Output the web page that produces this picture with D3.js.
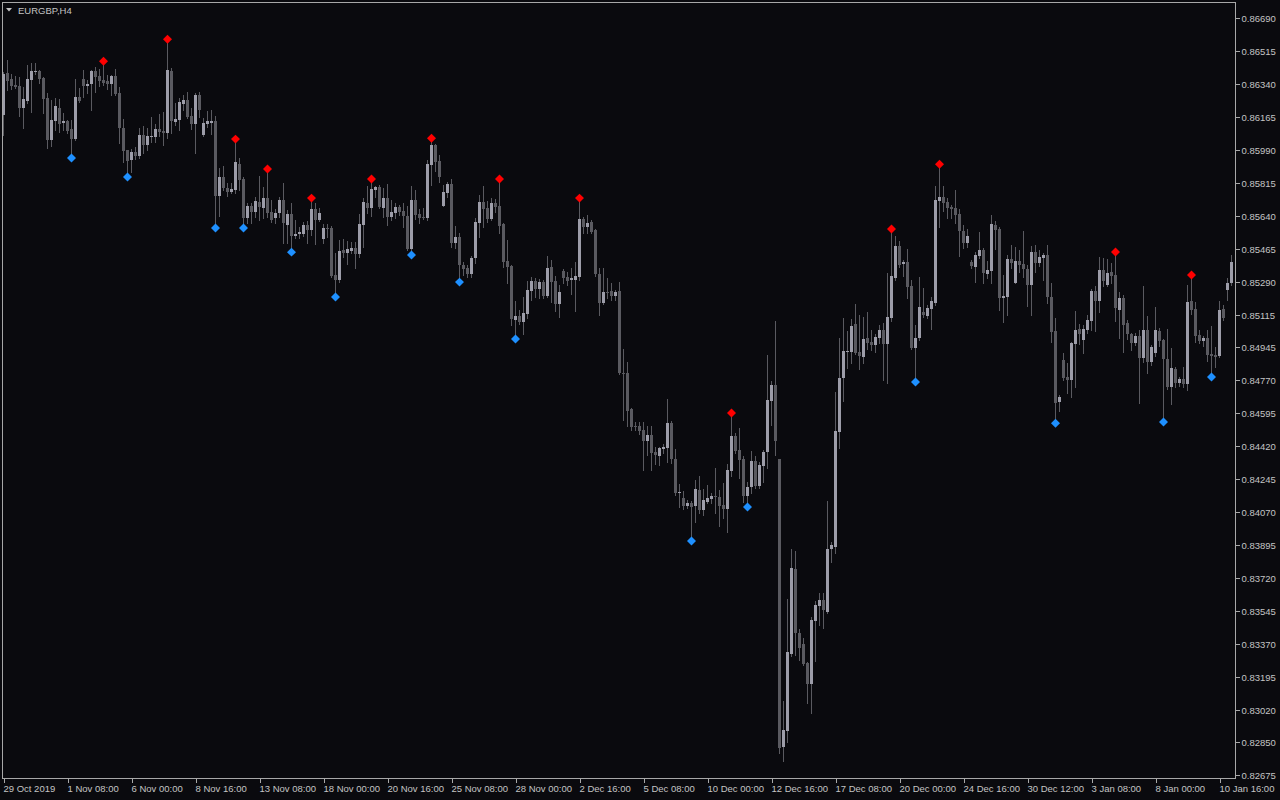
<!DOCTYPE html>
<html><head><meta charset="utf-8">
<script src="https://cdn.jsdelivr.net/npm/d3@7"></script>
<style>
html,body{margin:0;padding:0;background:#0a0a0e;overflow:hidden;}
svg{display:block;}
text{font-family:"Liberation Sans",Arial,sans-serif;}
</style></head><body>
<svg id="c" width="1280" height="800"></svg>
<script>
const symbolLabel = "EURGBP,H4";
const timeLabels = ["29 Oct 2019","1 Nov 08:00","6 Nov 00:00","8 Nov 16:00","13 Nov 08:00","18 Nov 00:00","20 Nov 16:00","25 Nov 08:00","28 Nov 00:00","2 Dec 16:00","5 Dec 08:00","10 Dec 00:00","12 Dec 16:00","17 Dec 08:00","20 Dec 00:00","24 Dec 16:00","30 Dec 12:00","3 Jan 08:00","8 Jan 00:00","10 Jan 16:00"];
const barsPerLabel = 16;
const priceLabels = ["0.86690","0.86515","0.86340","0.86165","0.85990","0.85815","0.85640","0.85465","0.85290","0.85115","0.84945","0.84770","0.84595","0.84420","0.84245","0.84070","0.83895","0.83720","0.83545","0.83370","0.83195","0.83020","0.82850","0.82675"];

const open = [0.86175,0.86398,0.86366,0.86334,0.86329,0.86213,0.86250,0.86361,0.86403,0.86408,
0.86371,0.86265,0.86043,0.86144,0.86213,0.86133,0.86144,0.86101,0.86048,0.86271,
0.86366,0.86329,0.86340,0.86408,0.86382,0.86361,0.86355,0.86340,0.86382,0.86292,
0.86107,0.85990,0.85937,0.85979,0.85958,0.86069,0.86016,0.86059,0.86059,0.86101,
0.86091,0.86080,0.86408,0.86138,0.86149,0.86234,0.86255,0.86170,0.86128,0.86281,
0.86069,0.86128,0.86133,0.86144,0.85746,0.85847,0.85788,0.85767,0.85778,0.85916,
0.85836,0.85630,0.85693,0.85661,0.85714,0.85683,0.85735,0.85661,0.85630,0.85656,
0.85725,0.85592,0.85651,0.85534,0.85545,0.85545,0.85592,0.85566,0.85677,0.85619,
0.85518,0.85577,0.85577,0.85327,0.85301,0.85460,0.85444,0.85455,0.85470,0.85439,
0.85592,0.85709,0.85683,0.85778,0.85794,0.85683,0.85735,0.85635,0.85656,0.85688,
0.85667,0.85640,0.85465,0.85725,0.85651,0.85635,0.85630,0.85910,0.86016,0.85932,
0.85693,0.85762,0.85810,0.85497,0.85529,0.85380,0.85364,0.85333,0.85417,0.85603,
0.85714,0.85683,0.85624,0.85709,0.85693,0.85598,0.85402,0.85375,0.85089,0.85110,
0.85078,0.85121,0.85243,0.85295,0.85253,0.85290,0.85216,0.85370,0.85295,0.85174,
0.85348,0.85317,0.85301,0.85301,0.85317,0.85624,0.85582,0.85608,0.85566,0.85333,
0.85179,0.85237,0.85243,0.85216,0.85243,0.84808,0.84808,0.84616,0.84526,0.84526,
0.84505,0.84447,0.84478,0.84388,0.84367,0.84404,0.84409,0.84542,0.84351,0.84171,
0.84144,0.84102,0.84118,0.84102,0.84187,0.84081,0.84123,0.84139,0.84155,0.84150,
0.84107,0.84086,0.84288,0.84473,0.84399,0.84351,0.84155,0.84203,0.84341,0.84208,
0.84314,0.84388,0.84659,0.84744,0.84351,0.82824,0.82909,0.83318,0.83768,0.83429,
0.83371,0.83270,0.83159,0.83493,0.83572,0.83604,0.83540,0.83874,0.83885,0.84495,
0.84781,0.84919,0.84919,0.85068,0.84919,0.84893,0.84993,0.84972,0.84956,0.84993,
0.85036,0.84962,0.85100,0.85311,0.85481,0.85386,0.85396,0.85269,0.84940,0.84993,
0.85131,0.85110,0.85147,0.85179,0.85720,0.85741,0.85714,0.85688,0.85683,0.85651,
0.85561,0.85497,0.85396,0.85370,0.85428,0.85460,0.85333,0.85348,0.85592,0.85571,
0.85205,0.85211,0.85412,0.85285,0.85402,0.85386,0.85359,0.85274,0.85449,0.85391,
0.85417,0.85433,0.85211,0.85031,0.84653,0.84877,0.84787,0.84771,0.84962,0.85041,
0.84983,0.85036,0.85084,0.85243,0.85190,0.85354,0.85274,0.85343,0.85327,0.85142,
0.85205,0.85073,0.85015,0.84967,0.85004,0.84887,0.85036,0.84866,0.84914,0.85031,
0.84983,0.84882,0.84734,0.84829,0.84755,0.84776,0.84750,0.85190,0.85147,0.85009,
0.84978,0.84993,0.84909,0.84903,0.84898,0.85147,0.85248,0.85285];

const high = [0.86403,0.86467,0.86393,0.86382,0.86377,0.86324,0.86440,0.86451,0.86451,0.86414,
0.86377,0.86292,0.86255,0.86265,0.86260,0.86186,0.86149,0.86149,0.86366,0.86318,
0.86414,0.86361,0.86414,0.86430,0.86420,0.86440,0.86387,0.86387,0.86420,0.86324,
0.86154,0.85990,0.85995,0.86006,0.86107,0.86117,0.86107,0.86165,0.86128,0.86181,
0.86191,0.86557,0.86424,0.86239,0.86265,0.86281,0.86297,0.86213,0.86292,0.86297,
0.86160,0.86197,0.86202,0.86170,0.85894,0.85905,0.85815,0.85815,0.86027,0.85947,
0.85847,0.85709,0.85709,0.85741,0.85852,0.85794,0.85868,0.85725,0.85677,0.85741,
0.85815,0.85672,0.85709,0.85619,0.85582,0.85608,0.85614,0.85714,0.85709,0.85683,
0.85598,0.85598,0.85587,0.85444,0.85513,0.85518,0.85508,0.85502,0.85502,0.85651,
0.85735,0.85799,0.85815,0.85799,0.85804,0.85788,0.85810,0.85725,0.85709,0.85698,
0.85709,0.85693,0.85799,0.85778,0.85677,0.85683,0.85937,0.86032,0.86022,0.85963,
0.85804,0.85820,0.85836,0.85587,0.85550,0.85396,0.85380,0.85428,0.85630,0.85751,
0.85799,0.85720,0.85735,0.85730,0.85815,0.85603,0.85513,0.85380,0.85190,0.85142,
0.85211,0.85295,0.85317,0.85311,0.85306,0.85301,0.85428,0.85407,0.85322,0.85274,
0.85359,0.85343,0.85364,0.85396,0.85714,0.85635,0.85645,0.85619,0.85571,0.85364,
0.85364,0.85311,0.85285,0.85248,0.85290,0.84935,0.84866,0.84622,0.84547,0.84547,
0.84547,0.84526,0.84526,0.84415,0.84415,0.84431,0.84670,0.84553,0.84404,0.84219,
0.84181,0.84134,0.84129,0.84240,0.84261,0.84192,0.84213,0.84171,0.84303,0.84187,
0.84224,0.84325,0.84574,0.84489,0.84516,0.84367,0.84229,0.84394,0.84367,0.84335,
0.84399,0.84903,0.84765,0.85084,0.84351,0.83068,0.83609,0.83874,0.83864,0.83450,
0.83402,0.83275,0.83514,0.83599,0.83641,0.83641,0.84129,0.83911,0.84707,0.84993,
0.85100,0.85031,0.85094,0.85174,0.85115,0.85105,0.85131,0.85036,0.85015,0.85062,
0.85073,0.85338,0.85550,0.85534,0.85508,0.85407,0.85465,0.85301,0.85062,0.85317,
0.85258,0.85168,0.85211,0.85799,0.85894,0.85799,0.85735,0.85698,0.85778,0.85677,
0.85592,0.85571,0.85407,0.85449,0.85555,0.85470,0.85402,0.85645,0.85614,0.85582,
0.85327,0.85433,0.85486,0.85476,0.85460,0.85561,0.85380,0.85481,0.85486,0.85460,
0.85444,0.85486,0.85285,0.85100,0.84691,0.84914,0.84861,0.84972,0.85137,0.85068,
0.85062,0.85115,0.85253,0.85269,0.85423,0.85418,0.85412,0.85391,0.85428,0.85237,
0.85221,0.85089,0.85020,0.85020,0.85036,0.85269,0.85110,0.84956,0.85158,0.85047,
0.84988,0.85041,0.84940,0.84840,0.84787,0.84840,0.85274,0.85306,0.85184,0.85036,
0.85004,0.85036,0.85057,0.84946,0.85190,0.85168,0.85311,0.85433];

const low = [0.86069,0.86308,0.86313,0.86318,0.86170,0.86107,0.86239,0.86191,0.86393,0.86345,
0.86186,0.86000,0.86011,0.86096,0.86085,0.86096,0.86080,0.85969,0.86043,0.86244,
0.86271,0.86292,0.86202,0.86297,0.86329,0.86334,0.86313,0.86281,0.86281,0.86027,
0.85926,0.85868,0.85873,0.85942,0.85947,0.85974,0.85990,0.86032,0.86032,0.86064,
0.86016,0.86053,0.86080,0.86122,0.86096,0.86202,0.86160,0.86101,0.85974,0.86165,
0.86064,0.86112,0.86075,0.85598,0.85640,0.85778,0.85746,0.85762,0.85762,0.85778,
0.85598,0.85603,0.85603,0.85635,0.85619,0.85630,0.85635,0.85608,0.85603,0.85635,
0.85497,0.85497,0.85470,0.85523,0.85523,0.85534,0.85497,0.85539,0.85492,0.85614,
0.85497,0.85529,0.85317,0.85232,0.85290,0.85423,0.85386,0.85444,0.85364,0.85423,
0.85476,0.85656,0.85640,0.85741,0.85683,0.85635,0.85592,0.85619,0.85630,0.85645,
0.85582,0.85460,0.85455,0.85624,0.85603,0.85624,0.85619,0.85804,0.85878,0.85820,
0.85693,0.85741,0.85476,0.85470,0.85311,0.85327,0.85317,0.85317,0.85391,0.85529,
0.85582,0.85608,0.85619,0.85661,0.85550,0.85370,0.85285,0.85062,0.85009,0.85068,
0.85015,0.85100,0.85195,0.85211,0.85205,0.85205,0.85211,0.85184,0.85137,0.85105,
0.85285,0.85274,0.85227,0.85137,0.85301,0.85550,0.85550,0.85550,0.85322,0.85115,
0.85174,0.85205,0.85195,0.85195,0.84803,0.84558,0.84526,0.84505,0.84505,0.84484,
0.84293,0.84372,0.84293,0.84325,0.84319,0.84383,0.84335,0.84330,0.84160,0.84097,
0.84086,0.84092,0.83938,0.84017,0.84065,0.84054,0.84118,0.84118,0.84065,0.83996,
0.84039,0.83964,0.84261,0.84383,0.84250,0.84123,0.84118,0.84171,0.84197,0.84197,
0.84229,0.84303,0.84531,0.84372,0.82792,0.82750,0.82850,0.83307,0.83312,0.83286,
0.83259,0.83057,0.83004,0.83281,0.83471,0.83456,0.83535,0.83805,0.83853,0.84409,
0.84659,0.84834,0.84861,0.84909,0.84829,0.84861,0.84935,0.84930,0.84919,0.84967,
0.84771,0.84755,0.85084,0.85301,0.85370,0.85322,0.85205,0.84935,0.84781,0.84983,
0.85105,0.85100,0.85041,0.85168,0.85582,0.85667,0.85630,0.85630,0.85603,0.85428,
0.85470,0.85476,0.85364,0.85290,0.85417,0.85285,0.85311,0.85285,0.85465,0.85142,
0.85078,0.85115,0.85364,0.85285,0.85343,0.85317,0.85163,0.85115,0.85343,0.85375,
0.85301,0.85179,0.84972,0.84563,0.84606,0.84771,0.84702,0.84680,0.84734,0.84962,
0.84914,0.85020,0.85036,0.85031,0.85131,0.85269,0.85269,0.85285,0.85084,0.84993,
0.84919,0.84988,0.84930,0.84956,0.84648,0.84866,0.84808,0.84850,0.84898,0.84951,
0.84569,0.84723,0.84643,0.84734,0.84739,0.84734,0.84718,0.85121,0.84972,0.84967,
0.84951,0.84871,0.84808,0.84840,0.84893,0.85089,0.85195,0.85274];

const close = [0.86393,0.86355,0.86329,0.86324,0.86213,0.86260,0.86366,0.86408,0.86408,0.86366,
0.86260,0.86043,0.86149,0.86223,0.86128,0.86144,0.86091,0.86048,0.86271,0.86250,
0.86329,0.86340,0.86408,0.86377,0.86355,0.86345,0.86340,0.86382,0.86287,0.86107,
0.85985,0.85932,0.85979,0.85958,0.86069,0.86016,0.86064,0.86064,0.86101,0.86085,
0.86080,0.86414,0.86144,0.86154,0.86244,0.86255,0.86165,0.86128,0.86281,0.86202,
0.86133,0.86144,0.86144,0.85746,0.85847,0.85788,0.85767,0.85783,0.85926,0.85831,
0.85630,0.85693,0.85661,0.85720,0.85688,0.85735,0.85656,0.85619,0.85656,0.85725,
0.85603,0.85651,0.85534,0.85545,0.85555,0.85592,0.85566,0.85677,0.85619,0.85656,
0.85577,0.85571,0.85322,0.85301,0.85455,0.85444,0.85465,0.85470,0.85439,0.85598,
0.85714,0.85683,0.85783,0.85794,0.85688,0.85735,0.85635,0.85661,0.85688,0.85661,
0.85640,0.85465,0.85725,0.85645,0.85630,0.85630,0.85916,0.86016,0.85926,0.85847,
0.85767,0.85810,0.85497,0.85529,0.85380,0.85359,0.85333,0.85417,0.85608,0.85714,
0.85677,0.85624,0.85709,0.85688,0.85587,0.85396,0.85370,0.85094,0.85110,0.85078,
0.85126,0.85248,0.85295,0.85253,0.85290,0.85216,0.85364,0.85290,0.85174,0.85237,
0.85311,0.85295,0.85311,0.85322,0.85624,0.85582,0.85603,0.85555,0.85333,0.85179,
0.85237,0.85232,0.85216,0.85237,0.84808,0.84803,0.84606,0.84521,0.84521,0.84500,
0.84447,0.84478,0.84383,0.84372,0.84409,0.84415,0.84542,0.84351,0.84171,0.84176,
0.84102,0.84118,0.84097,0.84192,0.84081,0.84134,0.84144,0.84155,0.84150,0.84102,
0.84086,0.84293,0.84473,0.84394,0.84346,0.84155,0.84203,0.84341,0.84208,0.84319,
0.84388,0.84664,0.84744,0.84447,0.82818,0.82914,0.83328,0.83773,0.83429,0.83349,
0.83265,0.83159,0.83498,0.83577,0.83604,0.83551,0.83874,0.83895,0.84500,0.84781,
0.84925,0.84925,0.85057,0.84914,0.84898,0.84988,0.84967,0.84956,0.84998,0.85036,
0.84962,0.85105,0.85322,0.85481,0.85380,0.85396,0.85264,0.84940,0.84993,0.85158,
0.85115,0.85153,0.85190,0.85725,0.85741,0.85709,0.85683,0.85677,0.85645,0.85561,
0.85497,0.85534,0.85375,0.85433,0.85460,0.85338,0.85354,0.85598,0.85566,0.85205,
0.85216,0.85412,0.85391,0.85402,0.85380,0.85359,0.85274,0.85449,0.85391,0.85423,
0.85433,0.85211,0.85025,0.84648,0.84680,0.84781,0.84771,0.84967,0.85036,0.85015,
0.85041,0.85089,0.85243,0.85190,0.85354,0.85295,0.85338,0.85322,0.85153,0.85205,
0.85062,0.85015,0.84967,0.85004,0.84887,0.85036,0.84866,0.84946,0.85036,0.84978,
0.84882,0.84734,0.84834,0.84755,0.84776,0.84750,0.85184,0.85142,0.85004,0.84978,
0.84993,0.84903,0.84898,0.84893,0.85142,0.85100,0.85285,0.85396];

const upFractals = [25,41,58,66,77,92,107,124,144,182,222,234,278,297];
const downFractals = [17,31,53,60,72,83,102,114,128,172,186,228,263,290,302];

// ---------- layout ----------
const W = 1280, H = 800;
const plot = {left: 2.5, top: 2.5, right: 1235.5, bottom: 778.5};
const BG = "#0a0a0e", FG = "#c4c4c4", FRAME = "#a8a8a8";
const BULL = "#9d9da9", BEAR = "#5a5a60", WICK = "#5a5a60";

const svg = d3.select("#c");
svg.append("rect").attr("width", W).attr("height", H).attr("fill", BG);

const n = open.length;
const x = d3.scaleLinear().domain([0, n - 1]).range([3.5, 3.5 + 4 * (n - 1)]);
const y = d3.scaleLinear().domain([0.82660, 0.86770]).range([778, 3]);

const g = svg.append("g").attr("shape-rendering", "crispEdges");

const bars = d3.range(n).map(i => ({i, o: open[i], h: high[i], l: low[i], c: close[i]}));

// wicks
g.selectAll("line.wick").data(bars).join("line")
  .attr("class", "wick")
  .attr("x1", d => x(d.i)).attr("x2", d => x(d.i))
  .attr("y1", d => Math.round(y(d.h))).attr("y2", d => Math.round(y(d.l)) + 1)
  .attr("stroke", WICK).attr("stroke-width", 1);

// bodies
g.selectAll("rect.body").data(bars).join("rect")
  .attr("class", "body")
  .attr("x", d => x(d.i) - 1.5)
  .attr("width", 3)
  .attr("y", d => Math.round(y(Math.max(d.o, d.c))))
  .attr("height", d => Math.max(1, Math.round(y(Math.min(d.o, d.c))) - Math.round(y(Math.max(d.o, d.c)))))
  .attr("fill", d => d.c >= d.o ? BULL : BEAR);

// fractal markers
const diamond = d3.symbol().type(d3.symbolSquare).size(40);
svg.selectAll("path.up").data(upFractals).join("path")
  .attr("class", "up")
  .attr("d", diamond)
  .attr("transform", i => `translate(${x(i)},${y(high[i]) - 4}) rotate(45)`)
  .attr("fill", "#ff0000");
svg.selectAll("path.dn").data(downFractals).join("path")
  .attr("class", "dn")
  .attr("d", diamond)
  .attr("transform", i => `translate(${x(i)},${y(low[i]) + 4}) rotate(45)`)
  .attr("fill", "#1e90ff");

// frame
const fr = svg.append("g").attr("shape-rendering", "crispEdges");
fr.append("rect")
  .attr("x", plot.left).attr("y", plot.top)
  .attr("width", plot.right - plot.left).attr("height", plot.bottom - plot.top)
  .attr("fill", "none").attr("stroke", FRAME).attr("stroke-width", 1);

// right price axis
const priceVals = priceLabels.map(Number);
const yAxis = d3.axisRight(y).tickValues(priceVals).tickSize(4).tickPadding(2)
  .tickFormat((d, k) => priceLabels[k]);
const ya = svg.append("g").attr("transform", `translate(${plot.right},0)`).call(yAxis);
ya.select(".domain").remove();
ya.selectAll(".tick line").attr("stroke", FRAME).attr("shape-rendering", "crispEdges");
ya.selectAll(".tick text").attr("fill", FG).attr("font-size", 9.5)
  .attr("font-family", "Liberation Sans, Arial, sans-serif");

// bottom time axis
const timeIdx = timeLabels.map((_, k) => k * barsPerLabel);
const xAxis = d3.axisBottom(x).tickValues(timeIdx).tickSize(4).tickPadding(3)
  .tickFormat((d, k) => timeLabels[k]);
const xa = svg.append("g").attr("transform", `translate(0,${plot.bottom})`).call(xAxis);
xa.select(".domain").remove();
xa.selectAll(".tick line").attr("stroke", FRAME).attr("shape-rendering", "crispEdges");
xa.selectAll(".tick text").attr("fill", FG).attr("font-size", 9.5)
  .attr("text-anchor", "start").attr("dx", -0.5)
  .attr("font-family", "Liberation Sans, Arial, sans-serif");

// title
svg.append("path").attr("d", "M6,8 L12,8 L9,11.5 Z").attr("fill", FG);
svg.append("text").attr("x", 18).attr("y", 13.5).attr("fill", FG)
  .attr("font-size", 9.5).text(symbolLabel);
</script>
</body></html>
